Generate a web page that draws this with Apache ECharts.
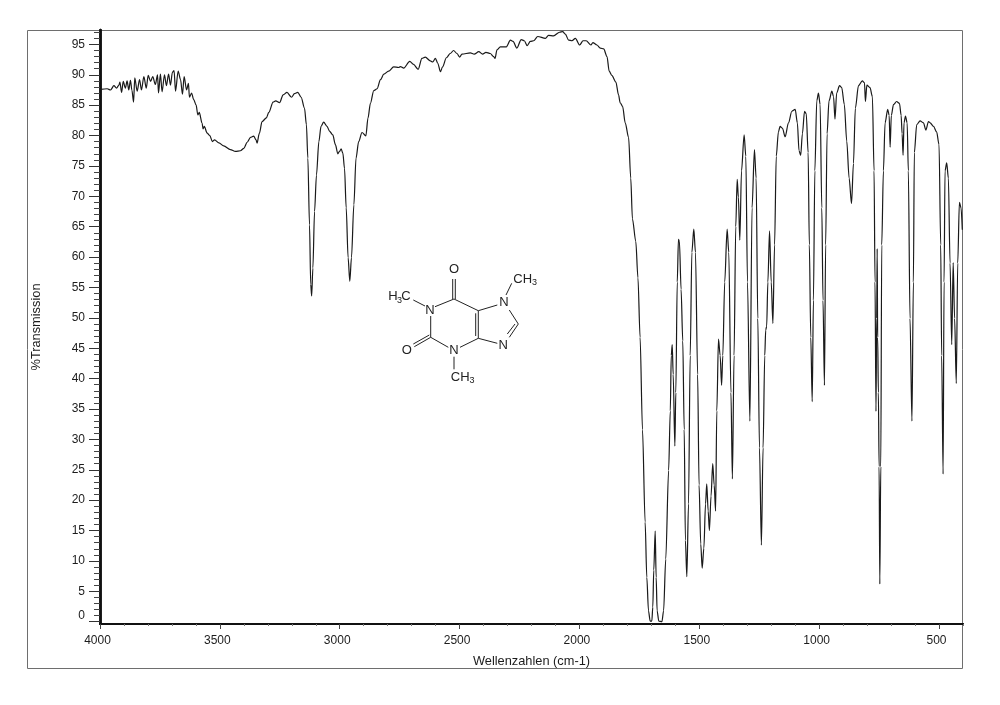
<!DOCTYPE html>
<html><head><meta charset="utf-8">
<style>html,body{margin:0;padding:0;background:#fff}#c{width:1000px;height:705px}</style>
<script src="https://cdn.jsdelivr.net/npm/echarts@6/dist/echarts.min.js"></script>
</head><body><div id="c"></div>
<script>
const wavenumbers = [3998,3970,3956,3942,3931,3921,3917,3910,3903,3894,3887,3880,3873,3867,3860,3855,3845,3835,3827,3817,3807,3799,3789,3780,3769,3760,3756,3748,3741,3731,3723,3714,3706,3698,3691,3685,3674,3664,3656,3649,3639,3631,3627,3618,3609,3599,3592,3586,3574,3570,3565,3553,3542,3531,3522,3504,3484,3456,3435,3414,3400,3386,3372,3359,3349,3345,3335,3324,3306,3296,3278,3267,3251,3236,3220,3201,3189,3175,3161,3147,3139,3133,3126,3121,3117,3112,3105,3097,3087,3078,3067,3053,3042,3029,3018,3008,3001,2994,2987,2980,2973,2965,2958,2951,2941,2932,2921,2907,2891,2882,2872,2858,2844,2830,2816,2796,2775,2754,
2747,2733,2708,2692,2673,2657,2643,2622,2612,2601,2591,2580,2571,2555,2539,2525,2511,2500,2490,2455,2439,2420,2404,2390,2372,2358,2352,2344,2330,2305,2288,2277,2261,2243,2230,2218,2205,2191,2174,2142,2129,2108,2083,2070,2059,2045,2031,2017,1999,1985,1972,1952,1944,1927,1913,1899,1885,
1876,1865,1848,1837,1830,1820,1809,1795,1786,1779,1765,1756,1747,1737,1726,1719,1712,1705,1698,1694,1690,1684,1680,1676,1669,1656,1649,1640,1628,1621,1617,1613,1609,1602,1598,1592,1587,1583,1576,1569,1563,1558,1552,1545,1538,1531,1523,1516,1507,1501,1494,1488,1481,1474,1469,1463,1458,1451,1444,1438,1432,1427,1420,1413,1407,1402,1394,1384,1377,1368,1362,1355,1348,1342,1337,1331,1324,1313,1306,1299,1289,1280,1270,1263,1256,1249,1241,1234,1227,1223,1219,1214,1207,1200,1193,1186,1179,1170,
1163,1153,1142,1128,1114,1100,1091,1084,1077,1070,1061,1054,1046,1041,1035,1029,1024,1018,1010,1003,996,989,984,978,973,967,959,947,940,934,927,915,906,895,885,875,865,857,849,836,820,811,807,801,788,778,771,767,763,760,758,756,753,750,747,743,739,732,725,714,708,704,699,690,677,665,658,654,650,646,640,633,628,621,613,607,603,593,579,565,555,544,537,523,510,500,493,489,483,479,475,468,461,454,447,441,435,428,422,415,408,403];
const transmission = [87.6,87.7,87.5,88.2,87.8,88.3,88.8,87.1,88.9,87.8,89.0,87.5,89.1,87.5,85.5,89.5,87.3,89.2,87.5,89.7,87.8,89.9,88.9,89.7,88.4,90.0,87.0,90.1,87.2,90.0,88.2,90.1,88.3,90.4,90.7,87.3,90.6,89.2,86.8,89.7,87.5,88.6,86.3,87,85.9,85.0,83.4,83.8,82.0,81.1,81.5,80.4,80.0,79.0,79.3,78.8,78.3,77.7,77.4,77.5,77.9,78.9,79.7,79.9,79.3,78.75,80.4,82.3,82.9,83.8,85.5,85.7,85.4,86.7,87.1,86.3,86.9,87.1,86.3,84.5,81.8,76.3,65.3,55.5,53.6,58.2,67.5,73.5,79.0,81.5,82.2,81.5,80.7,80.1,78.5,77.0,77.4,77.8,77.1,74.6,68.1,59.9,56.0,59.9,68.6,76.3,79.0,80.5,79.95,82.9,85.3,87.4,87.7,89.2,90.1,90.6,91.3,91.2,
91.35,91.1,92.2,91.7,90.9,92.7,92.9,92.3,92.1,92.7,91.9,90.5,91.3,92.8,93.5,94.0,93.5,92.9,93.4,93.6,93.4,93.8,93.4,93.7,93.5,93.0,92.7,94.1,94.6,94.6,95.7,95.5,94.4,95.8,95.6,94.8,95.5,95.6,96.3,96.0,96.5,96.4,97.0,97.1,96.7,95.7,95.6,96.0,94.9,95.6,95.6,94.9,95.3,94.9,94.4,94.25,93.0,
90.6,89.9,88.8,86.7,85.4,84.8,82.1,79.7,73,66.3,62.6,56.6,46.8,31.6,16.4,7.3,1.8,0.1,0.1,2.4,8.5,14.9,7.3,1.8,0.1,0,1.8,10.3,24.9,34.7,43.8,45.6,40.7,28.9,37.7,55.9,62.9,62.6,54.7,46.2,31.6,13.4,7.4,19.4,43.8,60.8,64.6,60.8,40.7,22.5,12.8,8.8,12.1,19.4,22.7,18.2,15.0,20.7,26.0,22.5,18.2,34.7,46.5,43.8,38.9,43.8,55.9,64.6,60.8,37.7,23.5,43.8,65,72.8,69.9,62.8,74.2,80.1,76.6,55.9,33,68.1,77.7,73,49.9,28.6,12.6,28.6,43.8,48,48.6,55.9,64.3,55.9,49.1,62,76.6,80.6,
81.5,81.2,79.8,82.1,84.0,84.3,82.1,77.5,76.75,80.3,84.0,83.6,77.2,62,46.8,36.2,52.9,74.2,85.7,87,85.1,68.1,52.9,38.9,62,80.3,85.7,87.3,86.4,82.7,87,88.2,87.9,85.1,79.1,73,68.8,75.4,84.5,88.2,89.0,88.7,85.6,88.3,87.9,86.4,74.2,55.9,34.6,49.9,61.4,46.8,37.7,25.5,6.2,25.5,62,74.2,82.1,84.3,83.3,78.1,83.3,85.1,85.6,85.3,83.3,80.3,76.75,82.1,83.2,82.1,74.2,49.9,33,55.9,77.2,81.8,82.4,82.1,80.9,82.3,82.1,81.5,80.6,78.5,62,43.8,24.3,55.9,74.2,75.5,73,59,45.6,59.1,49.9,39.2,59,69,68.1,64.5];
const xMajorTicks = [4000,3500,3000,2500,2000,1500,1000,500];
const xMinorTicks = [3900,3800,3700,3600,3400,3300,3200,3100,2900,2800,2700,2600,2400,2300,2200,2100,1900,1800,1700,1600,1400,1300,1200,1100,900,800,700,600,400];
const yMajorTicks = [0,5,10,15,20,25,30,35,40,45,50,55,60,65,70,75,80,85,90,95];
const yMinorTicks = [1,2,3,4,6,7,8,9,11,12,13,14,16,17,18,19,21,22,23,24,26,27,28,29,31,32,33,34,36,37,38,39,41,42,43,44,46,47,48,49,51,52,53,54,56,57,58,59,61,62,63,64,66,67,68,69,71,72,73,74,76,77,78,79,81,82,83,84,86,87,88,89,91,92,93,94,96,97];
const xName = 'Wellenzahlen (cm-1)';
const yName = '%Transmission';
const font = '"Liberation Sans", Arial, sans-serif';
const ink = '#1c1c1c';

// Caffeine structure, page pixels (annotation, not data)
const bonds = [[435,306.7,454,299],[454,299,478.3,310.7],[478.3,310.7,478.3,338.3],[475.7,313.3,475.7,336],[478.3,338.3,460,347.3],[448.3,347.3,430.7,337.3],[430.7,337.3,430.7,316],[430.7,337.3,414.3,346.7],[429.3,335,413.3,344],[425,306,413.3,300],[454,356.7,454,369.3],[478.3,310.7,497.3,305],[506,295,511.7,283.3],[509.3,310,518.3,324],[518.3,324,509.3,337.3],[515,324,507.3,334],[478.3,338.3,497.3,343.3],[452.7,279,452.7,299],[455.3,279,455.3,299]];
const atomTexts = [['O',454,269,13],['O',406.7,350,13],['N',430,310,13],['N',454,350,13],['N',504,302,13],['N',503.3,345,13],
 ['H',393,296.7,13],['3',399.5,300.5,9],['C',406,296.7,13],
 ['C',518,279,13],['H',527.5,279,13],['3',534.5,283,9],
 ['C',455.5,377,13],['H',465,377,13],['3',472,381,9]];

const graphic = [
 {type:'rect',z:0,silent:true,shape:{x:27.5,y:30.5,width:935,height:638},style:{fill:'none',stroke:'#6e6e6e',lineWidth:1}}
].concat(bonds.map(b=>({type:'line',silent:true,shape:{x1:b[0],y1:b[1],x2:b[2],y2:b[3]},style:{stroke:'#222',lineWidth:1}})))
 .concat(atomTexts.map(t=>({type:'text',silent:true,x:t[1],y:t[2],style:{text:t[0],fontFamily:font,fontSize:t[3],fill:'#222',align:'center',verticalAlign:'middle'}})));

const chart = echarts.init(document.getElementById('c'),null,{renderer:'canvas'});
const xBase = {type:'value',min:400,max:4000,inverse:true,position:'bottom',splitLine:{show:false},
  axisLine:{show:true,onZero:false,lineStyle:{color:'#111',width:2}}};
const yBase = {type:'value',min:-0.38,max:97.37,position:'left',splitLine:{show:false},
  axisLine:{show:true,onZero:false,lineStyle:{color:'#111',width:2.5}}};
chart.setOption({
  animation:false,
  backgroundColor:'#fff',
  grid:{left:100,right:37,top:30,bottom:81,containLabel:false},
  xAxis:[
   Object.assign({},xBase,{name:xName,nameLocation:'middle',nameGap:31,
     nameTextStyle:{fontFamily:font,fontSize:12.8,color:ink},
     axisTick:{show:true,length:5,customValues:xMajorTicks,lineStyle:{color:'#444',width:1}},
     axisLabel:{show:true,customValues:xMajorTicks,margin:11,padding:[0,5,0,0],fontFamily:font,fontSize:12,color:ink,formatter:v=>String(v)}}),
   Object.assign({},xBase,{axisTick:{show:true,length:2,customValues:xMinorTicks,lineStyle:{color:'#777',width:1}},axisLabel:{show:false}})
  ],
  yAxis:[
   Object.assign({},yBase,{name:yName,nameLocation:'middle',nameGap:57,
     nameTextStyle:{fontFamily:font,fontSize:12.8,color:ink},
     axisTick:{show:true,length:11,customValues:yMajorTicks,lineStyle:{color:'#333',width:1}},
     axisLabel:{show:true,customValues:yMajorTicks,margin:15,fontFamily:font,fontSize:12,color:ink,
       formatter:v=>v===0?'{zero|0}':String(v),
       rich:{zero:{fontFamily:font,fontSize:12,color:ink,padding:[0,0,12,0]}}}}),
   Object.assign({},yBase,{axisTick:{show:true,length:6,customValues:yMinorTicks,lineStyle:{color:'#444',width:1}},axisLabel:{show:false}})
  ],
  series:[{type:'line',xAxisIndex:0,yAxisIndex:0,showSymbol:false,symbol:'none',silent:true,clip:false,
     smooth:0.3,smoothMonotone:'x',
     lineStyle:{color:'#1a1a1a',width:1.2},
     data:wavenumbers.map((w,i)=>[w,transmission[i]])}],
  graphic:graphic
});
</script></body></html>
